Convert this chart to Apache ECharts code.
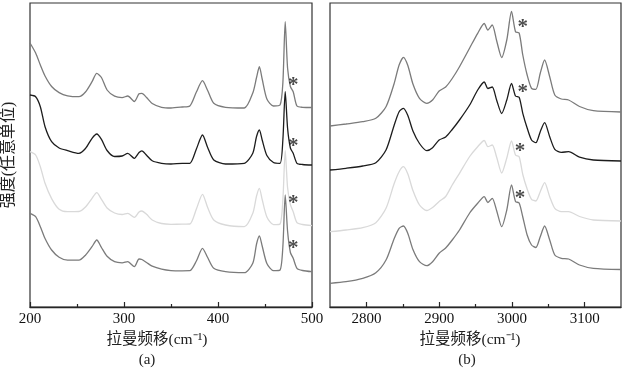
<!DOCTYPE html>
<html>
<head>
<meta charset="utf-8">
<script src="https://cdn.jsdelivr.net/npm/echarts@6/dist/echarts.min.js"></script>
<style>
html,body{margin:0;padding:0;background:#fff;}
#chart{width:622px;height:368px;}
</style>
</head>
<body>
<div id="chart"></div>
<script>
// ---------- Panel (a): 200–500 cm-1 ----------
const xA = [200,206,211,216,223,231,240,252,259,266,271,276,282,290,298,304,311,316,319,324,330,340,350,362,370,377,383.5,389,395.5,408,428,437,441,444,447,452,459,466,469,471.5,474,477,480,484,490,500];
const a1 = [264,254,242,231,220.5,214.4,211.2,210.3,215,225.3,233.7,229.5,217,210.8,209.4,211,205.5,213.2,213.7,209.5,203.5,199.7,199,200,201,215,226.3,216.5,203.7,199.7,199,214,229.5,240.3,228,208,201,202,224,285.3,239,220.5,215.3,201,199.7,199.5];
const a2 = [212,210.3,200.3,180.3,165.3,159,156.4,153.7,158.5,168.7,173,167.7,156.5,150.5,151,153.7,148.7,154.5,156.2,151.8,146.2,143.7,143,143.7,143.7,158,172,159.5,147,143,143.7,153.7,170.5,177,167,151.5,144.5,143.7,167,215.3,179,159,153.7,143.7,142.5,142];
const a3 = [155.3,152,140.3,123.7,108.4,97.7,95.3,95.5,100,108.7,114.3,107.7,99,94,92.5,93.7,89.7,95,96,92.7,87,83.5,82.7,82.8,83,98,112.7,99.5,87,82,80.3,93.7,111,118.7,107.5,90,82.3,83,107,156.3,119.5,102.5,95.3,84.3,82.5,81.3];
const a4 = [93.7,90.3,80.3,68.5,57,49.8,46.8,46.8,51.8,60.3,67,59.5,50.7,45.3,44.2,45.3,40.3,48,47.5,44.5,40.8,37.8,36.4,36.2,36.3,46,58.7,49.5,38.7,35.3,34.3,43.7,63,71,61,43.5,36.3,37,60.3,112,76,54.5,48.7,38.7,36.5,35.3];
const starA = [[480,226],[480,165],[480,108],[480,63]];
const ticksA = [200,300,400,500];
const minorA = [250,350,450];

// ---------- Panel (b): 2750–3150 cm-1 ----------
const xB = [2750,2772,2795,2813,2827,2838,2845,2851,2857,2864,2873,2883,2891,2900,2909,2918,2928,2942,2953,2962,2967,2973,2979,2986,2993,2999.5,3005,3010,3015,3021,3027,3033,3039,3045,3052,3059,3068,3078,3093,3112,3150];
const b1 = [181,183,185.3,188.7,200.3,223,242,249.7,241.5,223,208.7,203.7,207,216,220,228.5,240.3,259,273.7,283.5,277,282,266.5,249.5,267,295.5,275.3,274,252,232,218.7,217.7,233.7,247,230.3,212,208,207,200.5,196.3,195];
const b2 = [137,138.7,141,144.3,157,181.3,195.3,198.7,191.5,176,163.5,156.3,159.3,167,170,177.5,187,202,217,225,218.5,220,207,193.5,207,223.5,211,209.7,193.7,179,167,164.3,175.3,184.3,170.3,157.7,154.7,155.3,149.8,147,146];
const b3 = [75.3,77,79.3,84.3,98.7,123,135.3,140.3,133,116.5,102,96.5,99.5,105.5,110.5,122,133.7,150.5,160.3,166.5,160.3,162,150,134,149,166,152,150.3,132.5,118,107.7,106,115.3,124.3,110.3,98.7,95.3,95.3,90.5,87,86];
const b4 = [23.7,25.3,28.7,34.3,47,68,78.7,81,73.5,57.5,45.3,41.3,45.3,53.7,59,67,77,94,103.7,110.3,104.5,108.7,96.5,80.3,97,122,105.5,104,90,72,62,59.5,70.3,81,67,52,48.7,48,42,38.7,37.5];
const starB = [[3015,284],[3015,219],[3011,160],[3011,113]];
const ticksB = [2800,2900,3000,3100];
const minorB = [2850,2950,3050];

const yLabel = '强度(任意单位)';
const xLabel = '拉曼频移(cm⁻¹)';
const panelLabels = ['(a)','(b)'];

const colors = ['#7b7b7b','#1c1c1c','#d9d9d9','#7b7b7b'];
const serif = '"Liberation Serif","Times New Roman","Noto Sans CJK SC",serif';
const cjk = '"Liberation Serif","Noto Sans CJK SC",serif';

const pair = (xs, ys) => xs.map((x, i) => [x, ys[i]]);

function xAxes(gridIndex, min, max, major, minor) {
  return [
    {
      type: 'value', gridIndex, min, max,
      axisLine: { show: true, lineStyle: { color: '#262626', width: 1.3 } },
      axisTick: { show: true, inside: true, length: 5, customValues: major, lineStyle: { color: '#262626', width: 1.2 } },
      axisLabel: { show: true, customValues: major, margin: 5, color: '#111', fontSize: 15, fontFamily: serif,
                   formatter: v => String(v) },
      splitLine: { show: false }
    },
    {
      type: 'value', gridIndex, min, max, position: 'bottom',
      axisLine: { show: false },
      axisTick: { show: true, inside: true, length: 3, customValues: minor, lineStyle: { color: '#262626', width: 1.2 } },
      axisLabel: { show: false },
      splitLine: { show: false }
    }
  ];
}

function yAx(gridIndex, withName) {
  return {
    type: 'value', gridIndex, min: 0, max: 304,
    axisLine: { show: false }, axisTick: { show: false }, axisLabel: { show: false }, splitLine: { show: false },
    name: withName ? yLabel : '', nameLocation: 'middle', nameGap: 13,
    nameTextStyle: { fontSize: 16, color: '#222', fontFamily: cjk }
  };
}

function lineSeries(xi, yi, xs, ys, color) {
  return {
    type: 'line', xAxisIndex: xi, yAxisIndex: yi, data: pair(xs, ys),
    showSymbol: false, smooth: 0.25, clip: true,
    lineStyle: { color, width: 1.3 }, itemStyle: { color }, z: 3
  };
}

function starSeries(xi, yi, pts) {
  return {
    type: 'scatter', xAxisIndex: xi, yAxisIndex: yi, data: pts,
    symbolSize: 1, itemStyle: { color: 'rgba(0,0,0,0)' },
    label: { show: true, position: 'inside', formatter: '*', offset: [0, 5],
             fontSize: 21, fontWeight: 'bold', color: '#1a1a1a', fontFamily: serif },
    z: 5
  };
}

const chart = echarts.init(document.getElementById('chart'), null, { renderer: 'canvas' });
chart.setOption({
  animation: false,
  backgroundColor: '#fff',
  grid: [
    { left: 21, top: 3, width: 291, height: 304, show: true, borderColor: '#333', borderWidth: 1.2 },
    { left: 330, top: 3, width: 291, height: 304, show: true, borderColor: '#333', borderWidth: 1.2 }
  ],
  xAxis: [
    ...xAxes(0, 200, 500, ticksA, minorA),
    ...xAxes(1, 2750, 3150, ticksB, minorB)
  ],
  yAxis: [yAx(0, true), yAx(1, false)],
  series: [
    lineSeries(0, 0, xA, a3, colors[2]),
    lineSeries(0, 0, xA, a1, colors[0]),
    lineSeries(0, 0, xA, a4, colors[3]),
    lineSeries(0, 0, xA, a2, colors[1]),
    lineSeries(2, 1, xB, b3, colors[2]),
    lineSeries(2, 1, xB, b1, colors[0]),
    lineSeries(2, 1, xB, b4, colors[3]),
    lineSeries(2, 1, xB, b2, colors[1]),
    starSeries(0, 0, starA),
    starSeries(2, 1, starB)
  ],
  graphic: [
    { type: 'text', x: 157, y: 340, style: { text: xLabel, textAlign: 'center', textVerticalAlign: 'middle', font: '15.5px ' + cjk, fill: '#222' } },
    { type: 'text', x: 470, y: 340, style: { text: xLabel, textAlign: 'center', textVerticalAlign: 'middle', font: '15.5px ' + cjk, fill: '#222' } },
    { type: 'text', x: 147, y: 360, style: { text: panelLabels[0], textAlign: 'center', textVerticalAlign: 'middle', font: '15px ' + serif, fill: '#222' } },
    { type: 'text', x: 467, y: 360, style: { text: panelLabels[1], textAlign: 'center', textVerticalAlign: 'middle', font: '15px ' + serif, fill: '#222' } }
  ]
});
</script>
</body>
</html>
